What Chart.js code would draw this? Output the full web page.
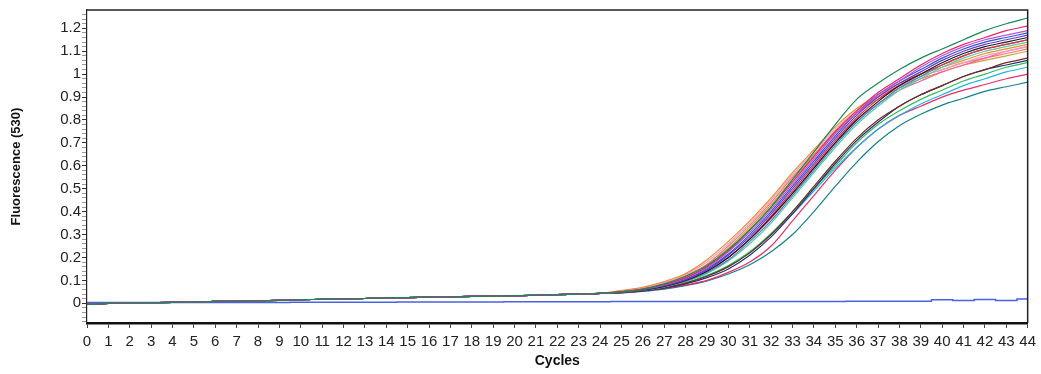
<!DOCTYPE html>
<html>
<head>
<meta charset="utf-8">
<script src="https://cdn.jsdelivr.net/npm/chart.js@4"></script>
<style>
	body { margin: 0; background: #ffffff; }
	#chart-wrapper { width: 1041px; height: 374px; }
</style>
</head>
<body>
<div id="chart-wrapper"><canvas id="amplification-canvas" width="1041" height="374"></canvas></div>
<script>
// cycles on the x axis
const cycles = [0,1,2,3,4,5,6,7,8,9,10,11,12,13,14,15,16,17,18,19,20,21,22,
	23,24,25,26,27,28,29,30,31,32,33,34,35,36,37,38,39,40,41,42,43,44];

// common baseline, cycles 0 - 24
const baseline = [-0.005,0.0,0.002,0.003,0.004,0.006,0.009,0.01,0.011,0.013,0.016,0.017,
	0.019,0.021,0.024,0.025,0.027,0.028,0.03,0.031,0.033,0.035,0.038,0.04,0.043];

// rising part of every sample, cycles 25 - 44
const darkGreenRise = [0.05,0.062,0.085,0.118,0.165,0.235,0.32,0.42,0.54,0.66,0.78,0.89,0.96,1.02,1.07,1.11,1.15,1.19,1.22,1.245];
const magentaRise = [0.05,0.062,0.082,0.112,0.16,0.23,0.32,0.42,0.53,0.64,0.75,0.84,0.92,0.98,1.04,1.09,1.13,1.16,1.19,1.21];
const violetRise = [0.05,0.062,0.08,0.11,0.155,0.225,0.31,0.41,0.52,0.63,0.74,0.83,0.91,0.97,1.03,1.08,1.12,1.15,1.17,1.19];
const blueRise = [0.05,0.06,0.078,0.105,0.15,0.215,0.3,0.4,0.51,0.62,0.73,0.83,0.91,0.97,1.02,1.07,1.11,1.14,1.16,1.18];
const purpleRise = [0.05,0.06,0.077,0.103,0.145,0.21,0.29,0.39,0.5,0.61,0.72,0.82,0.9,0.96,1.01,1.06,1.1,1.13,1.15,1.17];
const blackRise = [0.048,0.058,0.074,0.1,0.14,0.2,0.28,0.375,0.48,0.59,0.7,0.8,0.88,0.95,1.0,1.05,1.09,1.12,1.14,1.16];
const redRise = [0.05,0.06,0.076,0.1,0.14,0.2,0.28,0.38,0.49,0.6,0.71,0.81,0.89,0.95,1.0,1.04,1.08,1.11,1.13,1.15];
const steelRise = [0.048,0.058,0.073,0.097,0.135,0.19,0.27,0.36,0.47,0.58,0.69,0.79,0.87,0.94,0.99,1.04,1.08,1.11,1.13,1.15];
const lightGreenRise = [0.048,0.058,0.072,0.095,0.13,0.185,0.26,0.35,0.46,0.57,0.68,0.78,0.86,0.93,0.98,1.03,1.07,1.1,1.12,1.14];
const orangeRise = [0.055,0.07,0.095,0.13,0.19,0.27,0.36,0.46,0.57,0.67,0.77,0.85,0.91,0.96,1.0,1.03,1.06,1.09,1.11,1.13];
const lightPinkRise = [0.055,0.068,0.09,0.125,0.18,0.26,0.35,0.45,0.56,0.66,0.76,0.84,0.9,0.95,0.99,1.02,1.05,1.08,1.1,1.12];
const roseRise = [0.05,0.06,0.075,0.1,0.14,0.2,0.28,0.37,0.48,0.59,0.7,0.8,0.87,0.93,0.97,1.01,1.04,1.07,1.1,1.12];
const salmonRise = [0.052,0.065,0.088,0.12,0.17,0.25,0.34,0.44,0.55,0.65,0.75,0.83,0.9,0.95,0.99,1.02,1.05,1.07,1.09,1.11];
const tanRise = [0.052,0.064,0.085,0.118,0.165,0.24,0.33,0.43,0.54,0.645,0.745,0.83,0.89,0.94,0.98,1.01,1.04,1.06,1.08,1.1];
const brownRise = [0.046,0.055,0.068,0.088,0.118,0.16,0.22,0.3,0.4,0.51,0.62,0.72,0.8,0.86,0.91,0.95,0.99,1.02,1.05,1.07];
const navyRise = [0.046,0.054,0.066,0.085,0.112,0.15,0.21,0.29,0.39,0.5,0.61,0.71,0.79,0.86,0.91,0.95,0.99,1.02,1.04,1.06];
const greenRise = [0.047,0.056,0.07,0.09,0.122,0.165,0.225,0.305,0.4,0.5,0.6,0.7,0.78,0.84,0.89,0.93,0.97,1.0,1.03,1.05];
const cyanRise = [0.047,0.056,0.069,0.088,0.12,0.16,0.22,0.3,0.39,0.49,0.59,0.68,0.76,0.82,0.87,0.91,0.95,0.98,1.01,1.03];
const pinkLowRise = [0.046,0.054,0.065,0.08,0.1,0.135,0.18,0.25,0.36,0.47,0.58,0.68,0.76,0.82,0.86,0.9,0.93,0.955,0.98,1.0];
const tealRise = [0.045,0.052,0.062,0.077,0.098,0.128,0.168,0.225,0.3,0.4,0.51,0.615,0.705,0.775,0.825,0.865,0.895,0.925,0.945,0.965];

// negative control, flat over the whole run
const negativeControl = [0.003,0.003,0.003,0.003,0.003,0.004,0.004,0.004,0.004,0.004,0.005,0.005,
	0.005,0.005,0.005,0.006,0.006,0.006,0.006,0.006,0.007,0.007,0.007,0.007,0.007,0.008,0.008,0.008,
	0.008,0.008,0.008,0.008,0.008,0.008,0.008,0.008,0.009,0.009,0.009,0.009,0.016,0.012,0.017,0.012,0.019];

// y tick values: labelled every 0.1, small marks every 0.02
const yMajorTicks = [0,0.1,0.2,0.3,0.4,0.5,0.6,0.7,0.8,0.9,1,1.1,1.2];
const yMinorTicks = [-0.08,-0.06,-0.04,-0.02,0.02,0.04,0.06,0.08,0.12,0.14,0.16,0.18,0.22,0.24,0.26,0.28,
	0.32,0.34,0.36,0.38,0.42,0.44,0.46,0.48,0.52,0.54,0.56,0.58,0.62,0.64,0.66,0.68,0.72,0.74,0.76,0.78,
	0.82,0.84,0.86,0.88,0.92,0.94,0.96,0.98,1.02,1.04,1.06,1.08,1.12,1.14,1.16,1.18,1.22,1.24,1.26];

const samples = [
	{ rise: darkGreenRise, color: "#1b8a55" },
	{ rise: magentaRise, color: "#e8246e" },
	{ rise: violetRise, color: "#b455d8" },
	{ rise: blueRise, color: "#3450d8" },
	{ rise: purpleRise, color: "#6a3cc0" },
	{ rise: blackRise, color: "#1e1e1e" },
	{ rise: redRise, color: "#e03040" },
	{ rise: steelRise, color: "#3f86c8" },
	{ rise: lightGreenRise, color: "#55cc99" },
	{ rise: orangeRise, color: "#f08a28" },
	{ rise: lightPinkRise, color: "#f49ac8" },
	{ rise: roseRise, color: "#ff5fa0" },
	{ rise: salmonRise, color: "#f07a6a" },
	{ rise: tanRise, color: "#c8a048" },
	{ rise: brownRise, color: "#7a2a1e" },
	{ rise: navyRise, color: "#24307e" },
	{ rise: greenRise, color: "#2fc05a" },
	{ rise: cyanRise, color: "#22b4e6" },
	{ rise: pinkLowRise, color: "#e8306a" },
	{ rise: tealRise, color: "#17808e" }
];

let datasets = [];
for(let sample of samples)
{
	datasets.push({
		data: baseline.concat(sample.rise),
		borderColor: sample.color,
		borderWidth: 1.2,
		pointRadius: 0,
		cubicInterpolationMode: "monotone",
		fill: false
	});
}
datasets.push({
	data: negativeControl,
	borderColor: "#4a62e0",
	borderWidth: 1.5,
	pointRadius: 0,
	stepped: "middle",
	fill: false
});

// frame round the plot area (top and right edges)
const framePlugin = {
	id: "frame",
	afterDraw(chart)
	{
		const area = chart.chartArea;
		const ctx = chart.ctx;
		ctx.save();
		ctx.strokeStyle = "#222222";
		ctx.lineWidth = 1.5;
		ctx.beginPath();
		ctx.moveTo(area.left, area.top);
		ctx.lineTo(area.right, area.top);
		ctx.lineTo(area.right, area.bottom);
		ctx.stroke();
		ctx.restore();
	}
};

const tickFont = { family: "'Liberation Sans', Arial, sans-serif", size: 15 };

new Chart(document.getElementById("amplification-canvas").getContext("2d"),
{
	type: "line",
	data:
	{
		labels: cycles,
		datasets: datasets
	},
	options:
	{
		responsive: false,
		animation: false,
		layout: { padding: { top: 7, right: 12, left: 9, bottom: 4 } },
		plugins:
		{
			legend: { display: false },
			tooltip: { enabled: false }
		},
		scales:
		{
			x:
			{
				type: "linear",
				min: 0,
				max: 44,
				afterFit: (scale) => { scale.height = 47; },
				ticks: { stepSize: 1, color: "#222222", font: tickFont, padding: 5, maxRotation: 0, autoSkip: false },
				grid: { drawOnChartArea: false, tickLength: 5, tickColor: "#444444" },
				border: { color: "#111111", width: 2.5 },
				title:
				{
					display: true,
					text: "Cycles",
					color: "#111111",
					padding: { top: 0, bottom: 0 },
					font: { family: "'Liberation Sans', Arial, sans-serif", size: 14, weight: "bold" }
				}
			},
			y:
			{
				min: -0.086,
				max: 1.28,
				afterFit: (scale) => { scale.width = 78; },
				afterBuildTicks: (scale) =>
				{
					let list = yMinorTicks.map(v => ({ value: v }));
					for(let v of yMajorTicks)
						list.push({ value: v });
					list.sort((a, b) => a.value - b.value);
					scale.ticks = list;
				},
				ticks:
				{
					color: "#222222",
					font: tickFont,
					padding: 1,
					autoSkip: false,
					callback: function(value)
					{
						if(!yMajorTicks.includes(value))
							return "";
						return String(Math.round(value * 10) / 10);
					}
				},
				grid:
				{
					drawOnChartArea: false,
					tickLength: 5,
					tickColor: (ctx) => (ctx.tick && yMajorTicks.includes(ctx.tick.value)) ? "#333333" : "#9a9a9a"
				},
				border: { color: "#222222", width: 1.2 },
				title:
				{
					display: true,
					text: "Fluorescence (530)",
					color: "#111111",
					padding: { top: 0, bottom: 0 },
					font: { family: "'Liberation Sans', Arial, sans-serif", size: 13, weight: "bold" }
				}
			}
		}
	},
	plugins: [framePlugin]
});
</script>
</body>
</html>
